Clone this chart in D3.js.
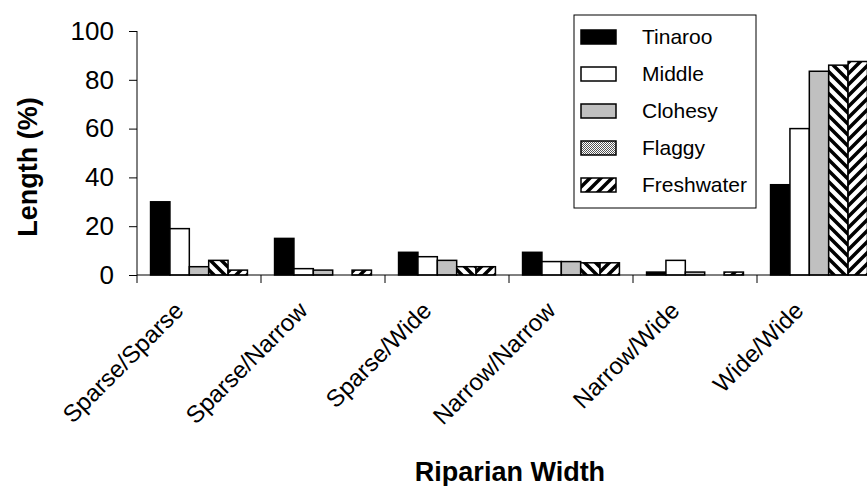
<!DOCTYPE html>
<html>
<head>
<meta charset="utf-8">
<script src="https://cdn.jsdelivr.net/npm/d3@7"></script>
<style>
  body { margin: 0; background: #fff; }
  text { font-family: Arial, "Liberation Sans", sans-serif; fill: #000; }
</style>
</head>
<body>
<div id="chart"></div>
<script>
const w = 867;
const h = 486;

// data
const categories = ['Sparse/Sparse', 'Sparse/Narrow', 'Sparse/Wide', 'Narrow/Narrow', 'Narrow/Wide', 'Wide/Wide'];
const seriesNames = ['Tinaroo', 'Middle', 'Clohesy', 'Flaggy', 'Freshwater'];
const tinaroo = [30, 15, 9.3, 9.3, 1.2, 37];
const middle = [19, 2.6, 7.5, 5.5, 6, 60];
const clohesy = [3.4, 2, 6, 5.5, 1.2, 83.5];
const flaggy = [6, 0, 3.4, 5, 0, 86];
const freshwater = [2, 2, 3.4, 5, 1.2, 87.5];
const yTicks = [0, 20, 40, 60, 80, 100];

const seriesValues = [tinaroo, middle, clohesy, flaggy, freshwater];

const svg = d3.select('#chart')
    .append('svg')
    .attr('width', w)
    .attr('height', h);

// patterns
const defs = svg.append('defs');

const stripe = (id, d) => {
    const p = defs.append('pattern')
        .attr('id', id)
        .attr('patternUnits', 'userSpaceOnUse')
        .attr('width', 11)
        .attr('height', 11);
    p.append('rect').attr('width', 11).attr('height', 11).attr('fill', '#fff');
    p.append('path').attr('d', d).attr('stroke', '#000').attr('stroke-width', 3.5);
}
stripe('fwd', 'M-3,3 l6,-6 M0,11 l11,-11 M8,14 l6,-6');
stripe('back', 'M-3,8 l6,6 M0,0 l11,11 M8,-3 l6,6');

const dots = defs.append('pattern')
    .attr('id', 'dots')
    .attr('patternUnits', 'userSpaceOnUse')
    .attr('width', 2)
    .attr('height', 2);
dots.append('rect').attr('width', 2).attr('height', 2).attr('fill', '#fff');
dots.append('rect').attr('width', 1).attr('height', 1).attr('fill', '#555');
dots.append('rect').attr('x', 1).attr('y', 1).attr('width', 1).attr('height', 1).attr('fill', '#555');

const barFill = ['#000', '#fff', '#c0c0c0', 'url(#back)', 'url(#fwd)'];
const legendFill = ['#000', '#fff', '#c0c0c0', 'url(#dots)', 'url(#fwd)'];

// scales
const x0 = d3.scaleBand()
    .domain(categories)
    .range([137, 881]);

const x1 = d3.scaleBand()
    .domain(seriesNames)
    .range([0, x0.bandwidth()])
    .paddingOuter(0.7);

const yScale = d3.scaleLinear()
    .domain([0, 100])
    .range([275, 31]);

// bars
const groups = svg.selectAll('g.cat')
    .data(categories)
    .enter()
    .append('g')
    .attr('class', 'cat')
    .attr('transform', d => 'translate(' + x0(d) + ',0)');

groups.selectAll('rect')
    .data((c, ci) => seriesNames.map((s, si) => ({ s: s, si: si, v: seriesValues[si][ci] })))
    .enter()
    .filter(d => d.v > 0)
    .append('rect')
    .attr('x', d => x1(d.s))
    .attr('y', d => yScale(d.v))
    .attr('width', x1.bandwidth())
    .attr('height', d => yScale(0) - yScale(d.v))
    .attr('fill', d => barFill[d.si])
    .attr('stroke', '#000')
    .attr('stroke-width', 1.5);

// axes
const yAxis = d3.axisLeft(yScale).tickValues(yTicks).tickSize(8).tickPadding(15);
const yG = svg.append('g')
    .attr('transform', 'translate(137,0)')
    .call(yAxis);
yG.select('.domain').attr('d', 'M0,31V283');
yG.selectAll('text').style('font-size', '26px');

svg.append('line')
    .attr('x1', 137).attr('x2', w)
    .attr('y1', 275).attr('y2', 275)
    .attr('stroke', '#000');

svg.selectAll('line.xtick')
    .data(categories.slice(1))
    .enter()
    .append('line')
    .attr('class', 'xtick')
    .attr('x1', d => x0(d)).attr('x2', d => x0(d))
    .attr('y1', 275).attr('y2', 283)
    .attr('stroke', '#000');

svg.selectAll('text.xlab')
    .data(categories)
    .enter()
    .append('text')
    .attr('class', 'xlab')
    .attr('text-anchor', 'end')
    .attr('transform', d => 'translate(' + (x0(d) + x0.bandwidth() / 2 - 14) + ',312) rotate(-45)')
    .style('font-size', '24px')
    .text(d => d);

// axis titles
svg.append('text')
    .attr('x', 510)
    .attr('y', 481)
    .attr('text-anchor', 'middle')
    .style('font-size', '27px')
    .style('font-weight', 'bold')
    .text('Riparian Width');

svg.append('text')
    .attr('transform', 'translate(37,167) rotate(-90)')
    .attr('text-anchor', 'middle')
    .style('font-size', '27px')
    .style('font-weight', 'bold')
    .text('Length (%)');

// legend
const legend = svg.append('g');
legend.append('rect')
    .attr('x', 574).attr('y', 15)
    .attr('width', 182).attr('height', 193)
    .attr('fill', '#fff')
    .attr('stroke', '#000');

const items = legend.selectAll('g.item')
    .data(seriesNames)
    .enter()
    .append('g')
    .attr('class', 'item')
    .attr('transform', (d, i) => 'translate(0,' + (37 + i * 37) + ')');

items.append('rect')
    .attr('x', 581).attr('y', -7)
    .attr('width', 35).attr('height', 14)
    .attr('fill', (d, i) => legendFill[i])
    .attr('stroke', '#000')
    .attr('stroke-width', 1.5);

items.append('text')
    .attr('x', 642)
    .attr('y', 7)
    .style('font-size', '21px')
    .text(d => d);
</script>
</body>
</html>
